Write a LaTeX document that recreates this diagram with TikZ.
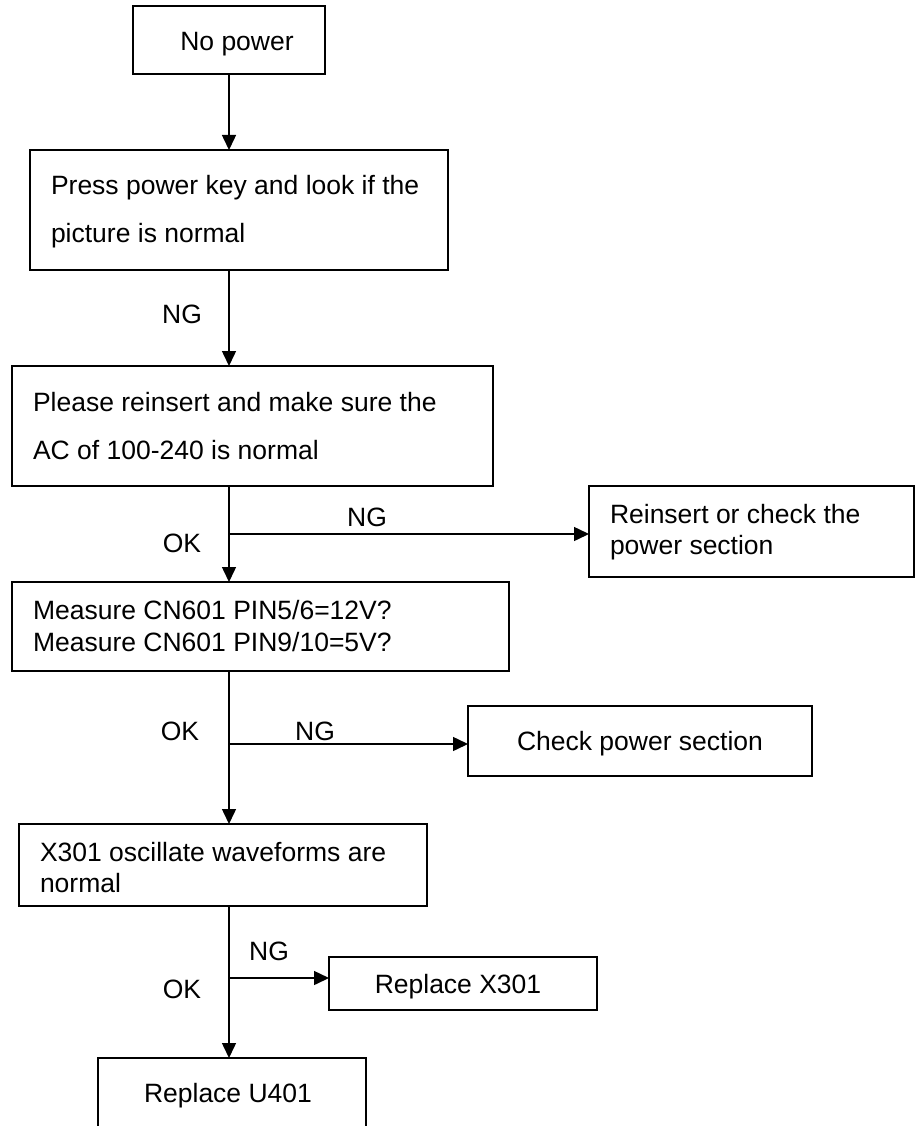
\documentclass[tikz,border=0pt]{standalone}
\usepackage{fontspec}
\setmainfont{Liberation Sans}
\usetikzlibrary{arrows.meta}
\begin{document}
\begin{tikzpicture}[x=1pt,y=-1pt,
  box/.style={draw=black, line width=1.8pt, inner sep=0pt, outer sep=0pt, rectangle},
  txt/.style={anchor=base west, inner sep=0pt, outer sep=0pt},
  ctxt/.style={anchor=base, inner sep=0pt, outer sep=0pt},
  conn/.style={line width=1.5pt, draw=black},
  arr/.style={conn, -{Triangle[length=15pt,width=14pt]}},
  font=\fontsize{26.5}{31.8}\selectfont]
\clip (0,0) rectangle (915,1126);
\fill[white] (0,0) rectangle (915,1126);

% boxes
\node[box, minimum width=192, minimum height=68] (b1) at (229,40) {};
\node[box, minimum width=418, minimum height=120] (b2) at (239,210) {};
\node[box, minimum width=481, minimum height=120] (b3) at (252.5,426) {};
\node[box, minimum width=325, minimum height=91] (b5) at (751.5,531.5) {};
\node[box, minimum width=497, minimum height=89] (b4) at (260.5,626.5) {};
\node[box, minimum width=344, minimum height=70] (b7) at (640,741) {};
\node[box, minimum width=408, minimum height=82] (b6) at (223,865) {};
\node[box, minimum width=268, minimum height=53] (b9) at (463,983.5) {};
\node[box, minimum width=268, minimum height=84] (b8) at (232,1100) {};

% texts
\node[ctxt] (t1) at (237,51) {No power};
\node[txt] (t2a) at (51,194) {Press power key and look if the};
\node[txt] (t2b) at (51,242) {picture is normal};
\node[txt] (t3a) at (33,411) {Please reinsert and make sure the};
\node[txt] (t3b) at (33,459) {AC of 100-240 is normal};
\node[txt] (t5a) at (610,523) {Reinsert or check the};
\node[txt] (t5b) at (610,554) {power section};
\node[txt] (t4a) at (33,619) {Measure CN601 PIN5/6=12V?};
\node[txt] (t4b) at (33,651) {Measure CN601 PIN9/10=5V?};
\node[ctxt] (t7) at (640,750) {Check power section};
\node[txt] (t6a) at (40,861) {X301 oscillate waveforms are};
\node[txt] (t6b) at (40,892) {normal};
\node[ctxt] (t9) at (458,993) {Replace X301};
\node[ctxt] (t8) at (228,1102) {Replace U401};

% junctions
\coordinate (j1) at (229,534);
\coordinate (j2) at (229,744);
\coordinate (j3) at (229,978);

% connectors
\draw[arr] (b1.south) -- (b1.south |- b2.north);
\draw[arr] (b1.south |- b2.south) -- (b1.south |- b3.north);
\draw[arr] (b1.south |- b3.south) -- (b1.south |- b4.north);
\draw[arr] (j1) -- (b5.west |- j1);
\draw[arr] (b1.south |- b4.south) -- (b1.south |- b6.north);
\draw[arr] (j2) -- (b7.west |- j2);
\draw[arr] (b1.south |- b6.south) -- (b1.south |- b8.north);
\draw[arr] (j3) -- (b9.west |- j3);

% labels
\node[ctxt] (l1) at (182,323) {NG};
\node[ctxt] (l2) at (367,526) {NG};
\node[ctxt] (l3) at (182,552) {OK};
\node[ctxt] (l4) at (315,740) {NG};
\node[ctxt] (l5) at (180,740) {OK};
\node[ctxt] (l6) at (269,960) {NG};
\node[ctxt] (l7) at (182,998) {OK};
\end{tikzpicture}
\end{document}
